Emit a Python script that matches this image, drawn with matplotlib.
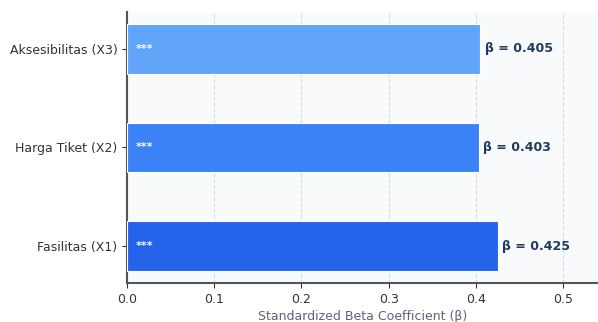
import matplotlib
matplotlib.use("Agg")
import matplotlib.pyplot as plt

categories = ["Fasilitas (X1)", "Harga Tiket (X2)", "Aksesibilitas (X3)"]
betas = [0.425, 0.403, 0.405]
sig = ["***", "***", "***"]
colors = ["#2563EB", "#3B82F6", "#60A5FA"]

fig = plt.figure(figsize=(5.98, 3.22), dpi=100)
ax = fig.add_axes([0.2124, 0.121, 0.7876, 0.842])
ax.set_facecolor("#F8FAFC")

bars = ax.barh(categories, betas, height=0.5, color=colors, edgecolor="white", linewidth=0.8, zorder=3)
for i, (b, s) in enumerate(zip(betas, sig)):
    ax.text(b + 0.005, i, f"β = {b:.3f}", va="center", ha="left", fontsize=9,
            fontweight="bold", color="#1E3A5F", zorder=4)
    ax.text(0.01, i, s, va="center", ha="left", fontsize=8, fontweight="bold",
            color="white", zorder=4)

ax.set_xlim(0, 0.54)
ax.set_xticks([0.0, 0.1, 0.2, 0.3, 0.4, 0.5])
ax.grid(axis="x", linestyle="--", color="#CBD5E1", linewidth=0.8, alpha=0.8, zorder=0)
ax.set_axisbelow(True)
for sp in ["top", "right"]:
    ax.spines[sp].set_visible(False)
for sp in ["left", "bottom"]:
    ax.spines[sp].set_color("#555555")
    ax.spines[sp].set_linewidth(1.5)
ax.tick_params(axis="both", labelsize=9, colors="#333333")
ax.set_xlabel("Standardized Beta Coefficient (β)", fontsize=9, color="#5B6475", labelpad=3)

fig.savefig("out.png", dpi=100)
